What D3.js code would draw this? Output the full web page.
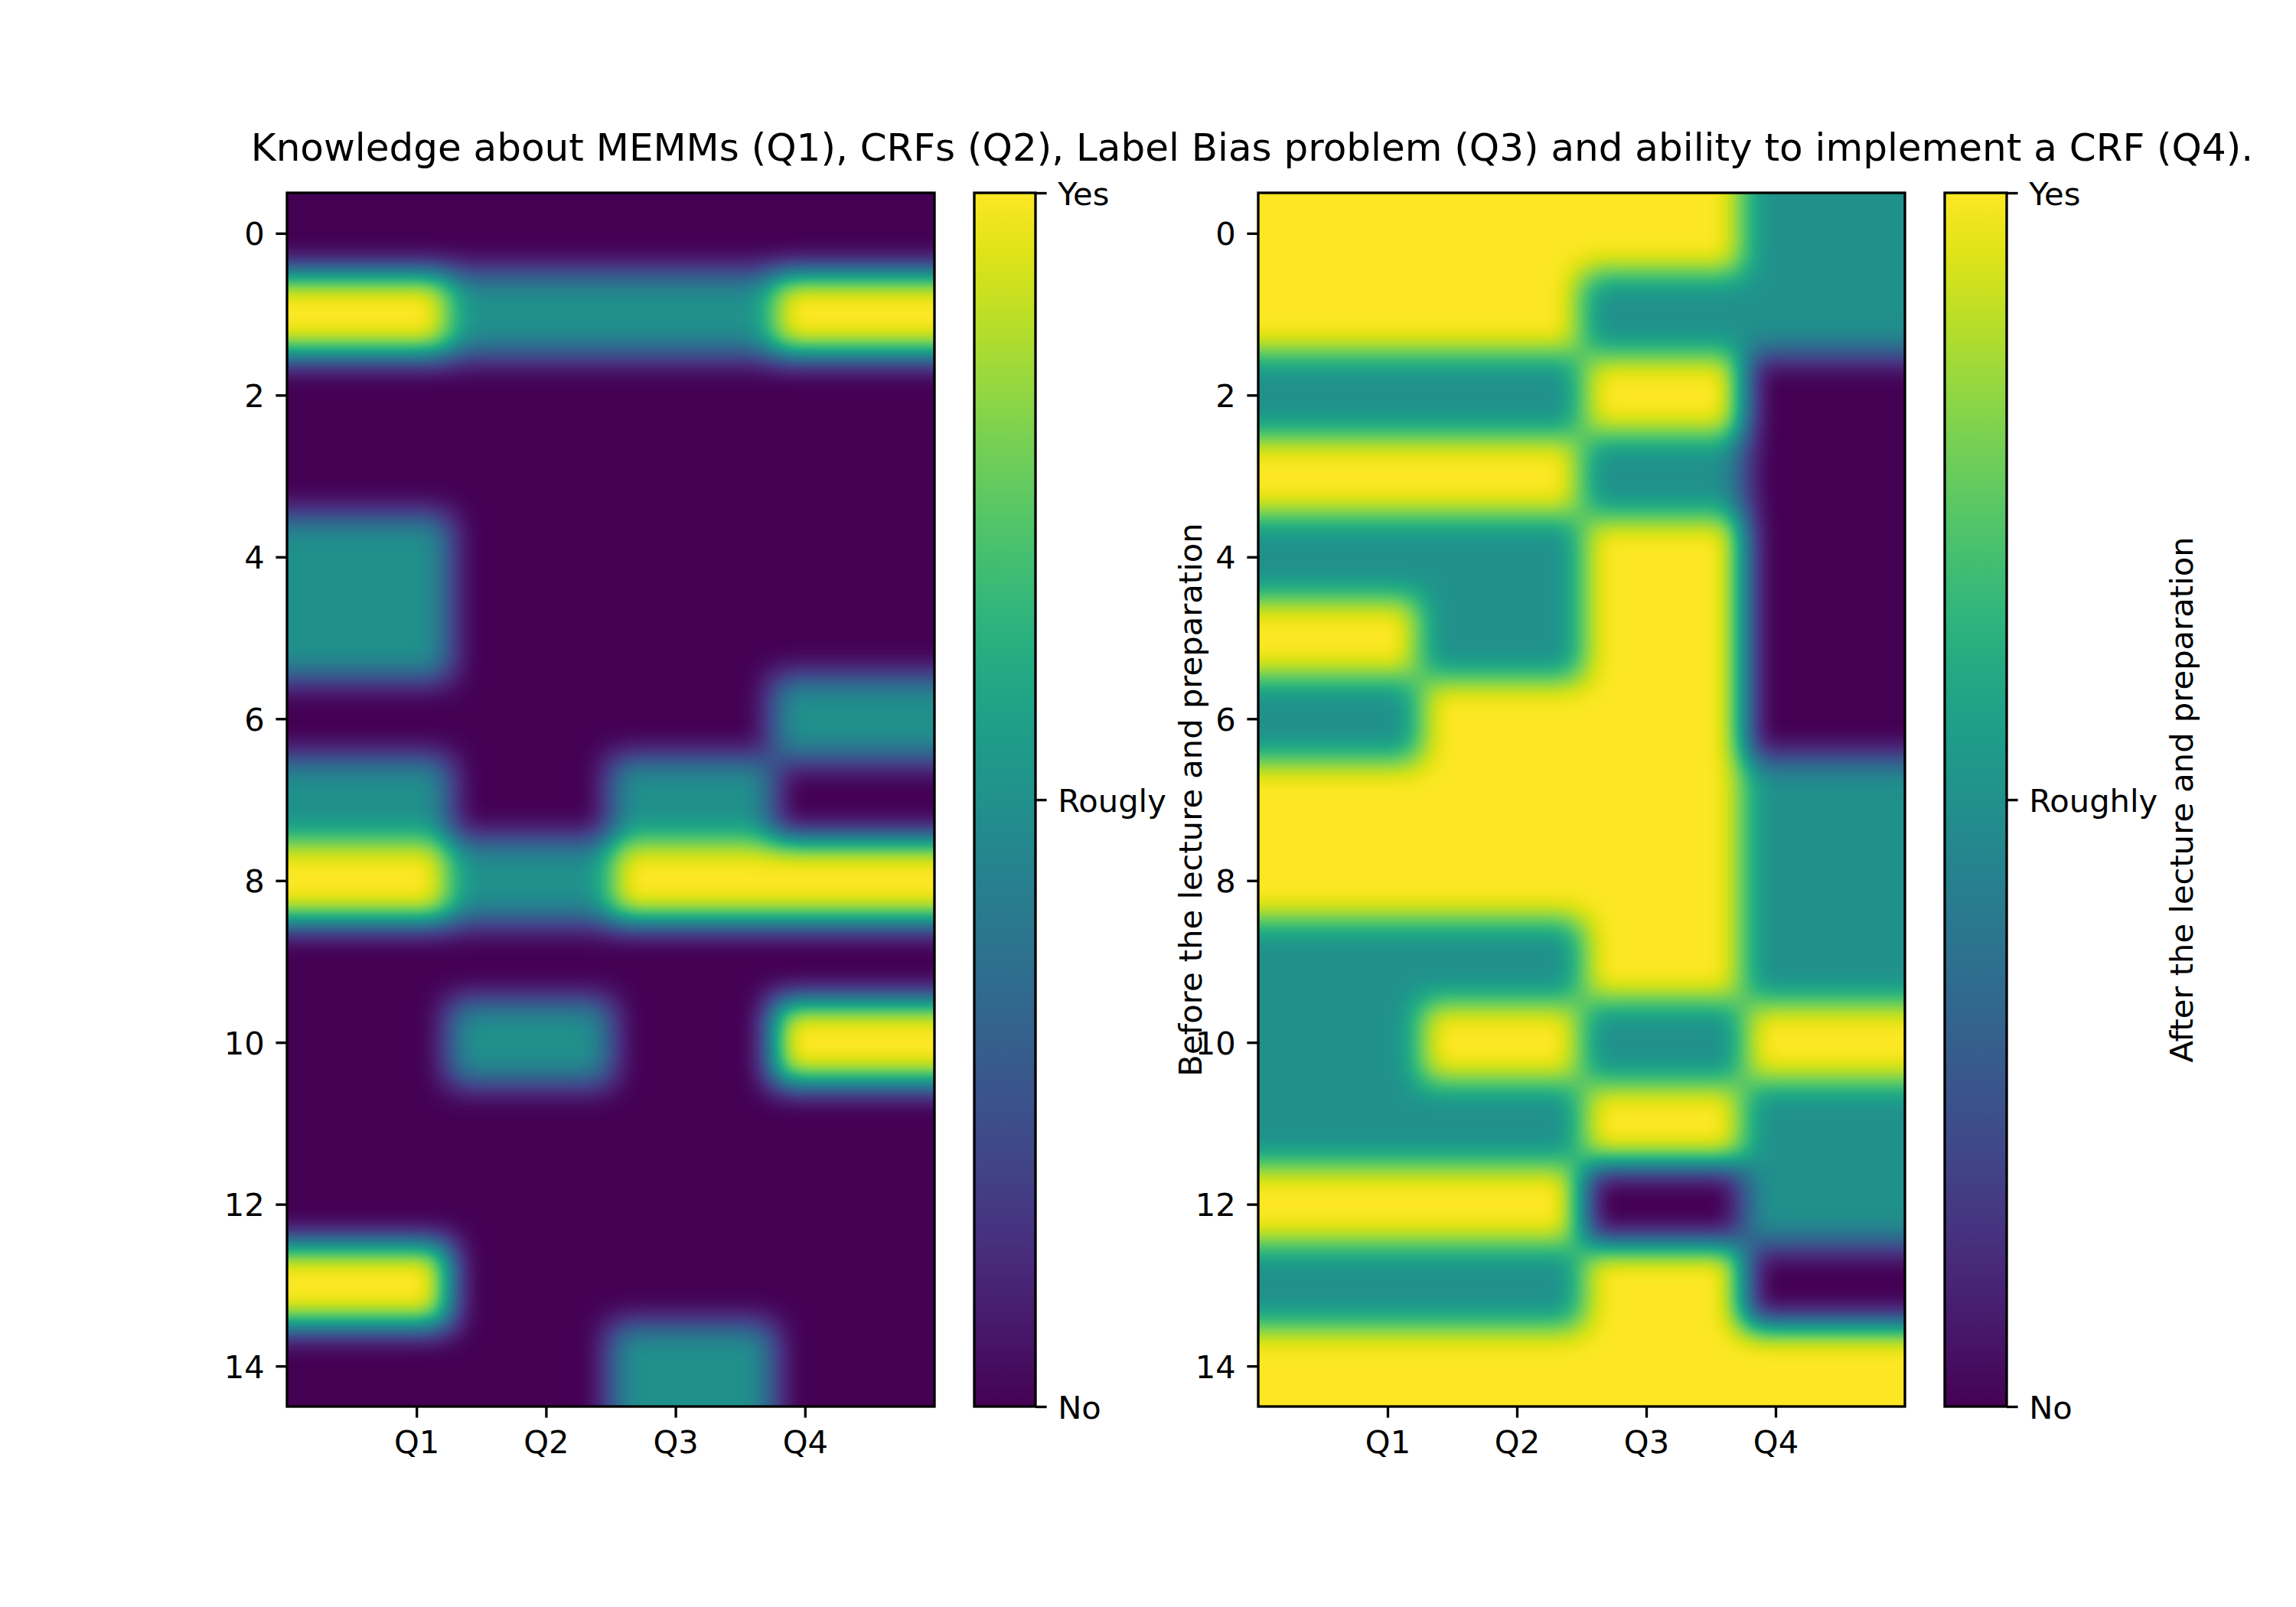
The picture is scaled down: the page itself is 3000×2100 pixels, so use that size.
<!DOCTYPE html>
<html>
<head>
<meta charset="utf-8">
<script src="https://cdn.jsdelivr.net/npm/d3@7"></script>
<style>
  html, body { margin: 0; padding: 0; background: #fff; }
  svg text { font-family: "DejaVu Sans", sans-serif; fill: #000; }
</style>
</head>
<body>
<svg id="chart" width="3000" height="2100"></svg>
<script>
// ---------------- data ----------------
const questions = ["Q1", "Q2", "Q3", "Q4"];
const questionTickPos = [0.3, 1.1, 1.9, 2.7];
const rowTicks = [0, 2, 4, 6, 8, 10, 12, 14];
const nRows = 15;
// 0 = No, 1 = Roughly, 2 = Yes
const before = [
  [0,0,0,0],
  [2,1,1,2],
  [0,0,0,0],
  [0,0,0,0],
  [1,0,0,0],
  [1,0,0,0],
  [0,0,0,1],
  [1,0,1,0],
  [2,1,2,2],
  [0,0,0,0],
  [0,1,0,2],
  [0,0,0,0],
  [0,0,0,0],
  [2,0,0,0],
  [0,0,1,0]
];
const after = [
  [2,2,2,1],
  [2,2,1,1],
  [1,1,2,0],
  [2,2,1,0],
  [1,1,2,0],
  [2,1,2,0],
  [1,2,2,0],
  [2,2,2,1],
  [2,2,2,1],
  [1,1,2,1],
  [1,2,1,2],
  [1,1,2,1],
  [2,2,0,1],
  [1,1,2,0],
  [2,2,2,2]
];
const cbValues = [0, 1, 2];
const cbLabelsBefore = ["No", "Rougly", "Yes"];
const cbLabelsAfter = ["No", "Roughly", "Yes"];
const titleText = "Knowledge about MEMMs (Q1), CRFs (Q2), Label Bias problem (Q3) and ability to implement a CRF (Q4).";
const labelBefore = "Before the lecture and preparation";
const labelAfter = "After the lecture and preparation";

// ---------------- layout ----------------
const svg = d3.select("#chart");
const defs = svg.append("defs");
const FS = 41.67, TITLE_FS = 50, LW = 3.33, TICK = 14.6, PAD = 14.6;
const yTop = 252, yBot = 1838;
const panels = [
  { id: "L", data: before, x0: 375, x1: 1221, cbX0: 1273, cbX1: 1353, cbLabels: cbLabelsBefore, label: labelBefore, labelX: 1570 },
  { id: "R", data: after, x0: 1644, x1: 2489, cbX0: 2541, cbX1: 2622, cbLabels: cbLabelsAfter, label: labelAfter, labelX: 2865 }
];

const color = d3.scaleSequential(d3.interpolateViridis).domain([0, 2]);
const gray = d3.scaleLinear().domain([0, 2]).range([0, 255]);

// viridis lookup tables for component transfer (value encoded as gray)
const N = 256;
const tab = ch => d3.range(N).map(k => (d3.rgb(color(k / (N - 1) * 2))[ch] / 255).toFixed(4)).join(" ");
const tabR = tab("r"), tabG = tab("g"), tabB = tab("b");

// colorbar gradient
const grad = defs.append("linearGradient").attr("id", "viridisGrad")
  .attr("x1", 0).attr("y1", 1).attr("x2", 0).attr("y2", 0);
d3.range(0, 1.0001, 0.05).forEach(t => {
  grad.append("stop").attr("offset", t).attr("stop-color", color(t * 2));
});

panels.forEach(p => {
  const x = d3.scaleLinear().domain([-0.5, questions.length - 0.5]).range([p.x0, p.x1]);
  const y = d3.scaleLinear().domain([-0.5, nRows - 0.5]).range([yTop, yBot]);
  const ext = 90;

  const f = defs.append("filter").attr("id", "f" + p.id)
    .attr("filterUnits", "userSpaceOnUse")
    .attr("x", p.x0 - ext - 10).attr("y", yTop - ext - 10)
    .attr("width", p.x1 - p.x0 + 2 * ext + 20).attr("height", yBot - yTop + 2 * ext + 20)
    .attr("color-interpolation-filters", "sRGB");
  f.append("feGaussianBlur").attr("stdDeviation", 21).attr("edgeMode", "duplicate");
  const ct = f.append("feComponentTransfer");
  ct.append("feFuncR").attr("type", "table").attr("tableValues", tabR);
  ct.append("feFuncG").attr("type", "table").attr("tableValues", tabG);
  ct.append("feFuncB").attr("type", "table").attr("tableValues", tabB);

  defs.append("clipPath").attr("id", "clip" + p.id)
    .append("rect").attr("x", p.x0).attr("y", yTop).attr("width", p.x1 - p.x0).attr("height", yBot - yTop);

  const cells = [];
  p.data.forEach((row, r) => row.forEach((v, c) => cells.push({ r, c, v })));

  const gImg = svg.append("g").attr("clip-path", `url(#clip${p.id})`)
    .append("g").attr("filter", `url(#f${p.id})`);
  gImg.selectAll("rect").data(cells).join("rect")
    .attr("x", d => x(d.c - 0.5) - (d.c === 0 ? ext : 0))
    .attr("y", d => y(d.r - 0.5) - (d.r === 0 ? ext : 0))
    .attr("width", d => x(d.c + 0.5) - x(d.c - 0.5) + (d.c === 0 ? ext : 0) + (d.c === questions.length - 1 ? ext : 0) + 0.6)
    .attr("height", d => y(d.r + 0.5) - y(d.r - 0.5) + (d.r === 0 ? ext : 0) + (d.r === nRows - 1 ? ext : 0) + 0.6)
    .attr("shape-rendering", "crispEdges")
    .attr("fill", d => { const g = Math.round(gray(d.v)); return `rgb(${g},${g},${g})`; });

  // spines
  svg.append("rect").attr("x", p.x0).attr("y", yTop).attr("width", p.x1 - p.x0).attr("height", yBot - yTop)
    .attr("fill", "none").attr("stroke", "#000").attr("stroke-width", LW);

  // y axis
  const ya = svg.append("g").attr("transform", `translate(${p.x0},0)`)
    .call(d3.axisLeft(y).tickValues(rowTicks).tickSize(TICK).tickPadding(PAD).tickFormat(d3.format("d")));
  ya.select(".domain").remove();
  ya.selectAll(".tick line").attr("stroke", "#000").attr("stroke-width", LW);
  ya.selectAll(".tick text").attr("font-size", FS).attr("font-family", "DejaVu Sans").attr("dy", "0.36em");

  // x axis
  const xa = svg.append("g").attr("transform", `translate(0,${yBot})`)
    .call(d3.axisBottom(x).tickValues(questionTickPos).tickSize(TICK).tickPadding(PAD)
      .tickFormat((d, i) => questions[i]));
  xa.select(".domain").remove();
  xa.selectAll(".tick line").attr("stroke", "#000").attr("stroke-width", LW);
  xa.selectAll(".tick text").attr("font-size", FS).attr("font-family", "DejaVu Sans").attr("dy", "0.76em");

  // colorbar
  const cy = d3.scaleLinear().domain([0, 2]).range([yBot, yTop]);
  svg.append("rect").attr("x", p.cbX0).attr("y", yTop).attr("width", p.cbX1 - p.cbX0).attr("height", yBot - yTop)
    .attr("fill", "url(#viridisGrad)").attr("stroke", "#000").attr("stroke-width", LW);
  const ca = svg.append("g").attr("transform", `translate(${p.cbX1},0)`)
    .call(d3.axisRight(cy).tickValues(cbValues).tickSize(TICK).tickPadding(PAD)
      .tickFormat((d, i) => p.cbLabels[i]));
  ca.select(".domain").remove();
  ca.selectAll(".tick line").attr("stroke", "#000").attr("stroke-width", LW);
  ca.selectAll(".tick text").attr("font-size", FS).attr("font-family", "DejaVu Sans").attr("dy", "0.36em");

  // colorbar label
  svg.append("text").attr("transform", `translate(${p.labelX},${(yTop + yBot) / 2}) rotate(-90)`)
    .attr("text-anchor", "middle").attr("font-size", FS).text(p.label);
});

// title
svg.append("text").attr("x", 1636).attr("y", 210).attr("text-anchor", "middle")
  .attr("font-size", TITLE_FS).text(titleText);
</script>
</body>
</html>
